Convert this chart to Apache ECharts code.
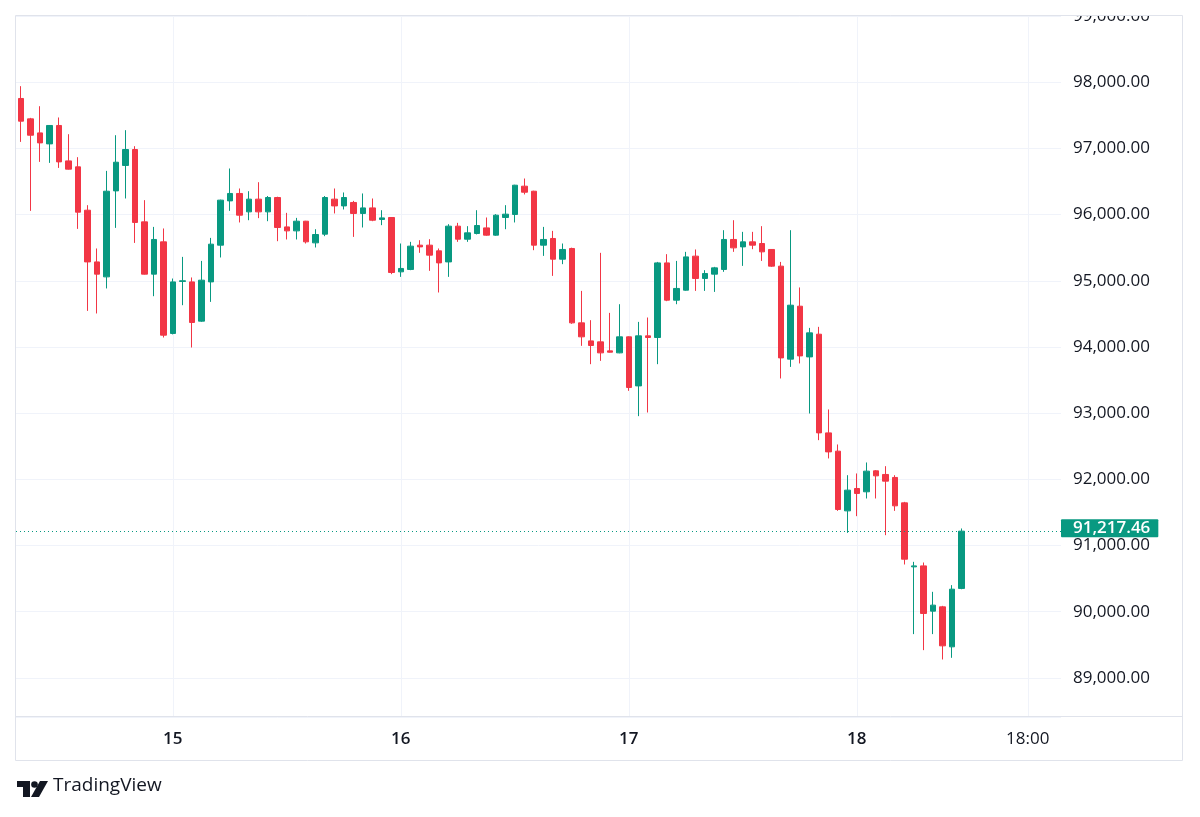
<!DOCTYPE html>
<html>
<head>
    <meta charset="utf-8">
    <script src="https://cdn.jsdelivr.net/npm/echarts@6/dist/echarts.min.js"></script>
</head>
<body style="margin: 0; background: #fff">
<div id="container" style="height: 817px; width: 1200px;"></div>
<script>

// hourly candles, first one is the 14th 08:00, last one the 18th 11:00
var opens = [
    97754, 97446, 97234, 97068, 97346, 96811, 96721, 96066, 95285, 95059,
    96358, 96742, 96983, 95890, 95100, 95588, 94204, 94990, 94983, 94390,
    94983, 95538, 96207, 96319, 96041, 96233, 96041, 96258, 95814, 95754,
    95900, 95573, 95704, 96233, 96131, 96183, 96017, 96101, 95926, 95956,
    95135, 95171, 95538, 95538, 95452, 95285, 95825, 95628, 95714, 95799,
    95689, 95956, 96002, 96429, 96353, 95538, 95639, 95326, 95488, 94364,
    94092, 94077, 93941, 93911, 94153, 93412, 94168, 94143, 95270, 94707,
    94858, 95372, 95035, 95100, 95171, 95624, 95512, 95588, 95563, 95473,
    95221, 93816, 94616, 93850, 94193, 92702, 92426, 91524, 91862, 91812,
    92129, 92074, 92029, 91645, 90678, 90693, 90009, 90074, 89470, 90352
];
var closes = [
    97411, 97199, 97083, 97346, 96796, 96686, 96036, 95285, 95100, 96353,
    96791, 96983, 95881, 95100, 95624, 94178, 94983, 95000, 94370, 95009,
    95553, 96218, 96319, 95991, 96233, 96041, 96258, 95805, 95754, 95900,
    95588, 95699, 96258, 96131, 96258, 96017, 96101, 95915, 95950, 95125,
    95186, 95523, 95512, 95387, 95270, 95825, 95628, 95724, 95835, 95689,
    95991, 96006, 96444, 96338, 95538, 95624, 95326, 95473, 94364, 94153,
    94022, 93911, 93921, 94153, 93388, 94168, 94143, 95270, 94707, 94884,
    95361, 95035, 95110, 95195, 95624, 95497, 95588, 95538, 95437, 95221,
    93835, 94631, 93865, 94213, 92702, 92415, 91545, 91837, 91787, 92124,
    92053, 91973, 91600, 90794, 90693, 89974, 90100, 89485, 90341, 91217.46
];
var lows = [
    97098, 96056, 96796, 96781, 96705, 96680, 95784, 94545, 94506, 94884,
    95799, 96243, 95572, 95095, 94767, 94143, 94190, 94631, 93992, 94380,
    94681, 95352, 96056, 95881, 95915, 95946, 95900, 95598, 95624, 95624,
    95563, 95503, 95674, 96017, 96077, 95663, 95805, 95900, 95840, 95100,
    95059, 95160, 95422, 95150, 94823, 95059, 95588, 95588, 95700, 95680,
    95680, 95779, 95881, 96304, 95462, 95376, 95074, 95251, 94350, 94017,
    93740, 93790, 93915, 93905, 93337, 92955, 93010, 93740, 94692, 94646,
    94850, 94847, 94847, 94832, 95135, 95437, 95225, 95477, 95300, 95210,
    93524, 93699, 93751, 92995, 92592, 92316, 91524, 91192, 91444, 91711,
    91711, 91157, 91524, 90714, 89662, 89420, 89662, 89279, 89304, 90340
];
var highs = [
    97940, 97461, 97637, 97350, 97467, 97214, 96867, 96142, 95488, 96660,
    97199, 97275, 97033, 96218, 95814, 95790, 95034, 95361, 95050, 95300,
    95648, 96225, 96696, 96394, 96353, 96489, 96280, 96270, 96026, 95950,
    95905, 95779, 96280, 96394, 96334, 96207, 96319, 96243, 96066, 95960,
    95563, 95588, 95613, 95628, 95488, 95855, 95875, 95825, 96066, 95956,
    96006, 96142, 96450, 96545, 96360, 95814, 95754, 95563, 95500, 94847,
    94405, 95422, 94515, 94646, 94160, 94379, 94445, 95285, 95402, 95300,
    95437, 95473, 95160, 95210, 95764, 95915, 95739, 95739, 95825, 95480,
    95285, 95764, 94899, 94288, 94304, 93056, 92527, 92063, 92089, 92255,
    92140, 92199, 92063, 91660, 90754, 90744, 90301, 90089, 90402, 91258
];
var lastPrice = 91217.46;

// x axis: 110 hourly slots, labelled only at these slots
var tickIdx = [16, 40, 64, 88, 106];
var tickText = ['15', '16', '17', '18', '18:00'];
var tickBold = [true, true, true, true, false];

var categories = [];
for (var i = 0; i < 110; i++) {
    var h = 8 + i;
    var day = 14 + Math.floor(h / 24);
    var hh = h % 24;
    categories.push(day + ' ' + (hh < 10 ? '0' : '') + hh + ':00');
}

var candles = [];
for (var k = 0; k < opens.length; k++) {
    candles.push([opens[k], closes[k], lows[k], highs[k]]);
}

function isTick(i) {
    return tickIdx.indexOf(i) >= 0;
}

function fmtPrice(v) {
    return v.toLocaleString('en-US', { minimumFractionDigits: 2, maximumFractionDigits: 2 });
}

var upColor = '#089981';
var downColor = '#F23645';
var textColor = '#131722';
var gridColor = '#f0f3fa';
var borderColor = '#e0e3eb';
var fontFamily = '"Open Sans", Roboto, sans-serif';

var myChart = echarts.init(document.getElementById('container'));

var option = {
    backgroundColor: '#ffffff',
    animation: false,
    grid: {
        left: 16,
        right: 139,
        top: 15,
        bottom: 100
    },
    xAxis: {
        type: 'category',
        data: categories,
        boundaryGap: true,
        axisLine: { show: false },
        axisTick: { show: false },
        axisLabel: {
            interval: function (i) { return isTick(i); },
            margin: 14,
            fontSize: 17,
            color: textColor,
            fontFamily: fontFamily,
            formatter: function (value, i) {
                var n = tickIdx.indexOf(i);
                if (n < 0) return '';
                return tickBold[n] ? '{b|' + tickText[n] + '}' : '{n|' + tickText[n] + '}';
            },
            rich: {
                b: { fontSize: 17, fontWeight: 600, color: textColor, fontFamily: fontFamily },
                n: { fontSize: 17, fontWeight: 400, color: textColor, fontFamily: fontFamily }
            }
        },
        splitLine: {
            show: true,
            interval: function (i) { return isTick(i); },
            alignWithLabel: true,
            lineStyle: { color: gridColor, width: 1 }
        }
    },
    yAxis: {
        type: 'value',
        position: 'right',
        min: 88410,
        max: 99015,
        splitNumber: 10,
        scale: true,
        axisLine: { show: false },
        axisTick: { show: false },
        axisLabel: {
            showMinLabel: false,
            showMaxLabel: false,
            margin: 12,
            fontSize: 17,
            color: textColor,
            fontFamily: fontFamily,
            formatter: fmtPrice
        },
        splitLine: {
            show: true,
            lineStyle: { color: gridColor, width: 1 }
        }
    },
    series: [{
        name: 'BTC',
        type: 'candlestick',
        data: candles,
        barWidth: 6,
        itemStyle: {
            color: upColor,
            color0: downColor,
            borderColor: upColor,
            borderColor0: downColor,
            borderWidth: 1
        },
        markLine: {
            silent: true,
            symbol: ['none', 'none'],
            lineStyle: { color: upColor, type: [1, 3], width: 1 },
            label: {
                position: 'end',
                distance: 0,
                offset: [0, -3],
                formatter: function () { return fmtPrice(lastPrice); },
                backgroundColor: upColor,
                color: '#ffffff',
                fontSize: 17,
                fontWeight: 600,
                fontFamily: fontFamily,
                padding: [1, 8, 0, 12],
                borderRadius: 1
            },
            data: [{ yAxis: lastPrice }]
        }
    }],
    graphic: [
        // clips the top price label like the frame does
        { type: 'rect', z: 50, shape: { x: 1062, y: 0, width: 130, height: 15 }, style: { fill: '#ffffff' } },
        { type: 'rect', z: 60, shape: { x: 15.5, y: 15.5, width: 1167, height: 745 },
          style: { fill: null, stroke: borderColor, lineWidth: 1 } },
        { type: 'line', z: 60, shape: { x1: 15.5, y1: 716.5, x2: 1182.5, y2: 716.5 },
          style: { stroke: borderColor, lineWidth: 1 } },
        // TradingView logo
        { type: 'polygon', z: 60, shape: { points: [[17, 781], [30, 781], [30, 797], [23, 797], [23, 787], [17, 787]] },
          style: { fill: textColor } },
        { type: 'circle', z: 60, shape: { cx: 34.5, cy: 784.5, r: 3.3 }, style: { fill: textColor } },
        { type: 'polygon', z: 60, shape: { points: [[40, 781], [48, 781], [39, 797], [31, 797]] },
          style: { fill: textColor } },
        { type: 'text', z: 60, left: 53, top: 776,
          style: { text: 'TradingView', fontSize: 19, fontFamily: fontFamily, fill: textColor } }
    ]
};

myChart.setOption(option);

</script>
</body>
</html>
